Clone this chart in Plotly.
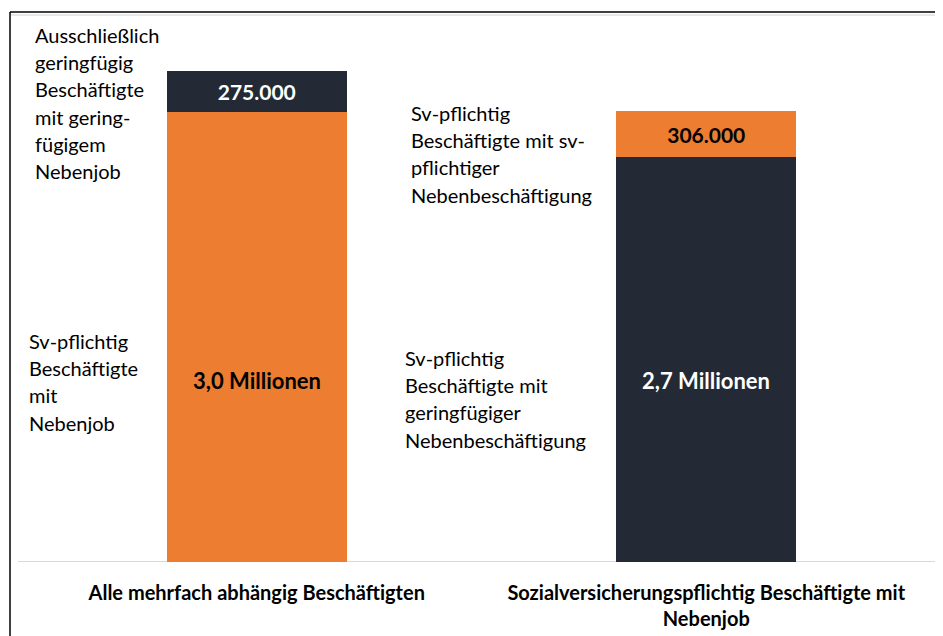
import plotly.graph_objects as go

categories = ["Alle mehrfach abhängig Beschäftigten",
              "Sozialversicherungspflichtig Beschäftigte mit<br>Nebenjob"]
base_values = [3.0, 2.7]          # Millionen
top_values = [0.275, 0.306]       # Millionen
base_labels = ["3,0 Millionen", "2,7 Millionen"]
top_labels = ["275.000", "306.000"]

ORANGE = "#ED7D31"
DARK = "#232A35"
FONT = "Lato, 'Open Sans', sans-serif"

base_colors = [ORANGE, DARK]
top_colors = [DARK, ORANGE]
base_text_colors = ["#000000", "#FFFFFF"]
top_text_colors = ["#FFFFFF", "#000000"]

x = [0, 1]

# page offset (default body margin of the html page)
OFF = 8
W, H = 943 - OFF, 636 - OFF
ML, MR, MT, MB = 24, 12, 59, 74
PW, PH = W - ML - MR, H - MT - MB
YMAX = 3.3


def px_x(sx):
    return (sx - OFF - ML) / PW


def px_y(sy):
    return (H - MB - (sy - OFF)) / PH


fig = go.Figure()
fig.add_trace(go.Bar(
    x=x, y=base_values, marker=dict(color=base_colors, line=dict(width=0)),
    hoverinfo="skip"))
fig.add_trace(go.Bar(
    x=x, y=top_values, marker=dict(color=top_colors, line=dict(width=0)),
    text=["<b>%s</b>" % t for t in top_labels], textposition="inside",
    insidetextanchor="middle", textangle=0,
    textfont=dict(family=FONT, size=21, color=top_text_colors),
    hoverinfo="skip"))

annotations = []
# labels of the large segments (placed at a common height like the original)
label_y = px_y(380) * YMAX
for xi, lab, col in zip(x, base_labels, base_text_colors):
    annotations.append(dict(
        text="<b>%s</b>" % lab, x=xi, y=label_y, xref="x", yref="y",
        showarrow=False, xanchor="center", yanchor="middle",
        font=dict(family=FONT, size=22, color=col)))

# side notes (one annotation per line for Calibri-like line spacing)
notes = [
    (["Ausschließlich", "geringfügig", "Beschäftigte", "mit gering-", "fügigem", "Nebenjob"], 33, 35),
    (["Sv-pflichtig", "Beschäftigte", "mit", "Nebenjob"], 27, 341),
    (["Sv-pflichtig", "Beschäftigte mit sv-", "pflichtiger", "Nebenbeschäftigung"], 409, 113),
    (["Sv-pflichtig", "Beschäftigte mit", "geringfügiger", "Nebenbeschäftigung"], 403, 358),
]
for lines, left, y0 in notes:
    for i, line in enumerate(lines):
        annotations.append(dict(
            text=line, xref="paper", yref="paper",
            x=px_x(left), y=px_y(y0 + i * 27.2),
            xanchor="left", yanchor="middle", showarrow=False,
            font=dict(family=FONT, size=20, color="#000000")))

shapes = [
    # baseline
    dict(type="line", xref="paper", yref="y", x0=px_x(18), x1=px_x(941), y0=0, y1=0,
         line=dict(color="#D9D9D9", width=2), layer="below"),
    # frame
    dict(type="line", xref="paper", yref="paper", x0=px_x(10), x1=px_x(980),
         y0=px_y(12), y1=px_y(12), line=dict(color="#000000", width=1.5)),
    dict(type="line", xref="paper", yref="paper", x0=px_x(11), x1=px_x(980),
         y0=px_y(15), y1=px_y(15), line=dict(color="#D0D0D0", width=1)),
    dict(type="line", xref="paper", yref="paper", x0=px_x(10), x1=px_x(10),
         y0=px_y(12), y1=px_y(700), line=dict(color="#000000", width=1.5)),
]

fig.update_layout(
    width=W, height=H, barmode="stack", bargap=0.6,
    margin=dict(l=ML, r=MR, t=MT, b=MB),
    paper_bgcolor="white", plot_bgcolor="white",
    showlegend=False,
    annotations=annotations, shapes=shapes,
    xaxis=dict(range=[-0.5, 1.5], tickmode="array", tickvals=x,
               ticktext=["<b>%s</b>" % c for c in categories],
               tickfont=dict(family=FONT, size=20, color="#000000"),
               showgrid=False, zeroline=False, showline=False, ticks="",
               ticklabelstandoff=17, automargin=False),
    yaxis=dict(range=[0, YMAX], visible=False, showgrid=False, zeroline=False,
               automargin=False),
)

fig.write_html("out.html")
